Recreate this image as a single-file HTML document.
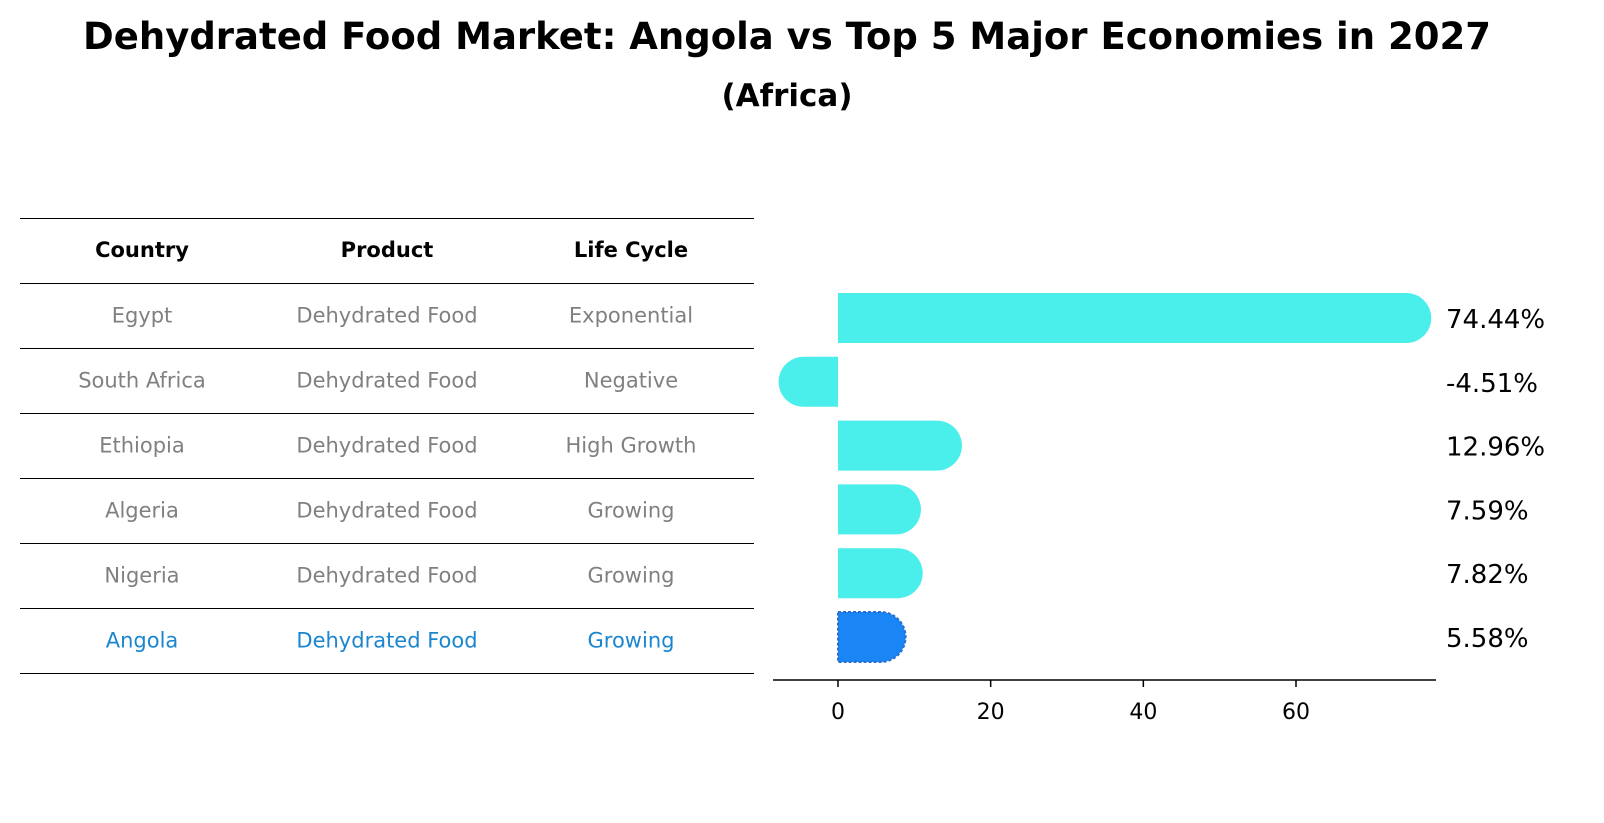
<!DOCTYPE html>
<html><head><meta charset="utf-8"><style>
body{margin:0;width:1604px;height:823px;background:#fff;font-family:"Liberation Sans","DejaVu Sans",sans-serif;overflow:hidden;position:relative}
.t{position:absolute;text-align:center;width:1604px;left:0;font-weight:bold;font-family:"DejaVu Sans","Liberation Sans",sans-serif}
</style></head><body>
<div class="t" style="top:15px;font-size:37px;left:-15px">Dehydrated Food Market: Angola vs Top 5 Major Economies in 2027</div>
<div class="t" style="top:78px;font-size:31px;left:-15px">(Africa)</div>
<svg id="s" width="1604" height="823" style="position:absolute;left:0;top:0" font-family="DejaVu Sans, Liberation Sans, sans-serif"></svg>
<script>
const countries=["Egypt","South Africa","Ethiopia","Algeria","Nigeria","Angola"];
const products=["Dehydrated Food","Dehydrated Food","Dehydrated Food","Dehydrated Food","Dehydrated Food","Dehydrated Food"];
const lifeCycles=["Exponential","Negative","High Growth","Growing","Growing","Growing"];
const growth=[74.44,-4.51,12.96,7.59,7.82,5.58];
const xTicks=[0,20,40,60];
const s=document.getElementById('s');
const NS='http://www.w3.org/2000/svg';
function mk(t,a,p){const e=document.createElementNS(NS,t);for(const k in a)e.setAttribute(k,a[k]);(p||s).appendChild(e);return e;}
const colX=[142,387,631];
const headers=["Country","Product","Life Cycle"];
const rowY=i=>283.5+i*65;
function hl(y,name){const l=mk('line',{x1:20,x2:754,y1:y,y2:y,stroke:'#000','stroke-width':1});

}
hl(218.5,'table-top-line');
headers.forEach((h,j)=>{const t=mk('text',{x:colX[j],y:257,'text-anchor':'middle','font-size':21,'font-weight':'bold'});t.textContent=h;

});
countries.forEach((c,i)=>{
 hl(rowY(i),'table-row-line');
 const col=i===countries.length-1?'#1a86d0':'#808080';
 [c,products[i],lifeCycles[i]].forEach((v,j)=>{const t=mk('text',{x:colX[j],y:rowY(i)+39,'text-anchor':'middle','font-size':21,fill:col});t.textContent=v;
 
 });
});
hl(rowY(countries.length),'table-bottom-line');
const x0=838,ppu=(1296-838)/60;
const X=v=>x0+v*ppu;
const Y=i=>318+i*63.8;
const r=25;
growth.forEach((v,i)=>{
 const ang=i===growth.length-1;
 const fill=ang?'#1a86f5':'#4aeeea';
 const xe=X(v),d=v>=0?1:-1;
 const p=`M${x0},${Y(i)-r} L${xe},${Y(i)-r} A${r},${r} 0 0 ${d>0?1:0} ${xe},${Y(i)+r} L${x0},${Y(i)+r} Z`;
 const b=mk('path',{d:p,fill:fill,stroke:ang?'#2a6fd0':'none','stroke-width':ang?2:0,'stroke-dasharray':ang?'3,2':'none'});
 
 
 const t=mk('text',{x:1446,y:Y(i)+10,'font-size':26});t.textContent=v.toFixed(2)+'%';
 
 
});
const ax=mk('line',{x1:773,x2:1436,y1:680,y2:680,stroke:'#000','stroke-width':1.5});


xTicks.forEach(v=>{mk('line',{x1:X(v),x2:X(v),y1:680,y2:687,stroke:'#000','stroke-width':1.5});
 const t=mk('text',{x:X(v),y:719,'text-anchor':'middle','font-size':22});t.textContent=v;
 
 });
</script>
</body></html>
